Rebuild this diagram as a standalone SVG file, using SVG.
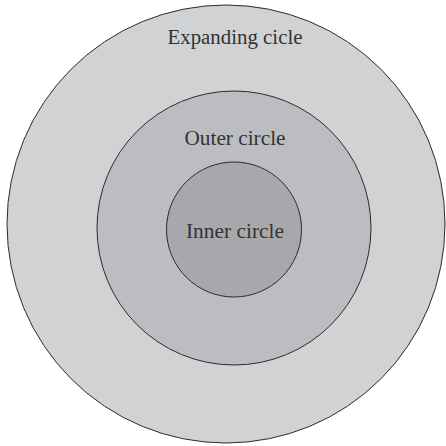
<svg xmlns="http://www.w3.org/2000/svg" width="446" height="446" viewBox="0 0 446 446">
<style>
.c{stroke:#2b2b2b;stroke-width:1}
.t{font-size:20px;fill:#333;text-anchor:middle}
</style>
<rect width="446" height="446" fill="#fff"/>
<g id="expanding">
<circle class="c" cx="226" cy="224" r="219" fill="#d1d2d4"/>
<text class="t" font-family="Liberation Serif, serif" x="235" y="44" textLength="135" lengthAdjust="spacingAndGlyphs">Expanding cicle</text>
</g>
<g id="outer">
<circle class="c" cx="234" cy="228" r="137" fill="#bcbdc0"/>
<text class="t" font-family="Liberation Serif, serif" x="235" y="145" textLength="101" lengthAdjust="spacingAndGlyphs">Outer circle</text>
</g>
<g id="inner">
<circle class="c" cx="234" cy="229.5" r="67.5" fill="#a7a8ab"/>
<text class="t" font-family="Liberation Serif, serif" x="235" y="238" textLength="98" lengthAdjust="spacingAndGlyphs">Inner circle</text>
</g>
<g id="connectors"></g>
</svg>
